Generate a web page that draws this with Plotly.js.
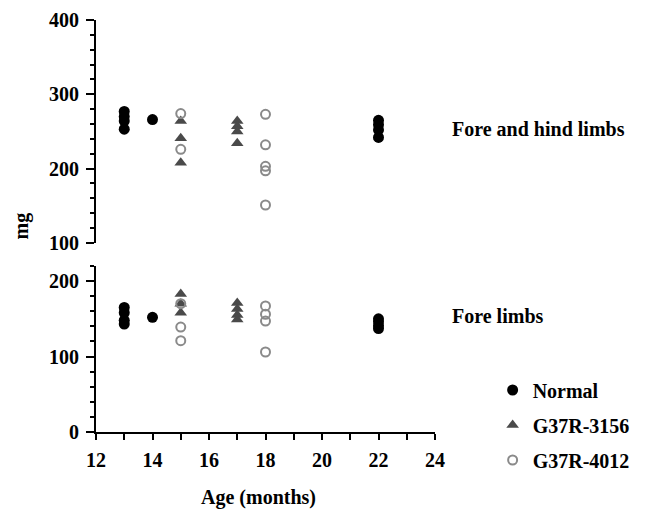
<!DOCTYPE html>
<html>
<head>
<meta charset="utf-8">
<script src="https://cdn.plot.ly/plotly-3.0.1.min.js"></script>
<style>html,body{margin:0;padding:0;background:#fff;}#chart{width:647px;height:519px;}</style>
</head>
<body>
<div id="chart"></div>
<script>
// Fore and hind limbs (top panel)
var topNormalAge = [13, 13, 13, 13, 14, 22, 22, 22, 22];
var topNormalMg  = [277, 270, 264, 253, 266, 265, 259, 252, 242];
var topG3156Age  = [15, 15, 15, 17, 17, 17, 17];
var topG3156Mg   = [264, 241, 208, 264, 257, 250, 234];
var topG4012Age  = [15, 15, 18, 18, 18, 18, 18];
var topG4012Mg   = [274, 226, 273, 232, 203, 197, 151];

// Fore limbs (bottom panel)
var botNormalAge = [13, 13, 13, 13, 14, 22, 22, 22, 22];
var botNormalMg  = [165, 158, 148, 143, 152, 150, 146, 141, 137];
var botG3156Age  = [15, 15, 15, 17, 17, 17, 17];
var botG3156Mg   = [183, 170, 158, 171, 163, 155, 149];
var botG4012Age  = [15, 15, 15, 18, 18, 18, 18];
var botG4012Mg   = [170, 139, 121, 167, 156, 147, 106];

var seriesNames = ['Normal', 'G37R-3156', 'G37R-4012'];
var xTickVals = [12, 13, 14, 15, 16, 17, 18, 19, 20, 21, 22, 23, 24];
var xTickText = ['12', '', '14', '', '16', '', '18', '', '20', '', '22', '', '24'];
var topTickVals = [100, 200, 300, 400];
var botTickVals = [0, 100, 200];

var serif = 'Liberation Serif, Times New Roman, serif';
var styleN = {symbol: 'circle', size: 11, color: '#000000'};
var styleA = {symbol: 'triangle-up', size: 11, color: '#4a4a4a'};
var styleB = {symbol: 'circle-open', size: 9, color: '#8a8a8a', line: {width: 2, color: '#8a8a8a'}};

var traces = [
  {x: botNormalAge, y: botNormalMg, xaxis: 'x', yaxis: 'y', mode: 'markers', name: seriesNames[0], legendgroup: 'a', marker: styleN},
  {x: botG3156Age, y: botG3156Mg, xaxis: 'x', yaxis: 'y', mode: 'markers', name: seriesNames[1], legendgroup: 'b', marker: styleA},
  {x: botG4012Age, y: botG4012Mg, xaxis: 'x', yaxis: 'y', mode: 'markers', name: seriesNames[2], legendgroup: 'c', marker: styleB},
  {x: topNormalAge, y: topNormalMg, xaxis: 'x', yaxis: 'y2', mode: 'markers', name: seriesNames[0], legendgroup: 'a', showlegend: false, marker: styleN},
  {x: topG3156Age, y: topG3156Mg, xaxis: 'x', yaxis: 'y2', mode: 'markers', name: seriesNames[1], legendgroup: 'b', showlegend: false, marker: styleA},
  {x: topG4012Age, y: topG4012Mg, xaxis: 'x', yaxis: 'y2', mode: 'markers', name: seriesNames[2], legendgroup: 'c', showlegend: false, marker: styleB}
];

var bigFont = {family: serif, size: 20, color: '#000', weight: 'bold'};

var layout = {
  width: 647, height: 519,
  margin: {l: 96, r: 210, t: 20, b: 87},
  paper_bgcolor: '#ffffff', plot_bgcolor: '#ffffff',
  font: {family: serif, color: '#000'},
  showlegend: true,
  legend: {x: 1.17, xanchor: 'left', y: 0.017, yanchor: 'middle', font: bigFont, tracegroupgap: 6, bgcolor: 'rgba(0,0,0,0)'},
  xaxis: {
    range: [12, 24], domain: [0, 1], anchor: 'y',
    showline: true, linecolor: '#000', linewidth: 2, showgrid: false, zeroline: false,
    tickmode: 'array', tickvals: xTickVals, ticktext: xTickText,
    ticks: 'outside', ticklen: 6, tickwidth: 2, tickcolor: '#000',
    ticklabelstandoff: 3,
    tickfont: bigFont
  },
  yaxis: {
    range: [0, 220], domain: [0, 0.403], anchor: 'x',
    showline: true, linecolor: '#000', linewidth: 2, showgrid: false, zeroline: false,
    tickmode: 'array', tickvals: botTickVals,
    ticks: 'outside', ticklen: 8, tickwidth: 2, tickcolor: '#000',
    ticklabelstandoff: 3,
    minor: {dtick: 20, tick0: 0, ticks: 'outside', ticklen: 4, tickwidth: 2, tickcolor: '#000', showgrid: false},
    tickfont: bigFont
  },
  yaxis2: {
    range: [100, 400], domain: [0.459, 1], anchor: 'x',
    showline: true, linecolor: '#000', linewidth: 2, showgrid: false, zeroline: false,
    tickmode: 'array', tickvals: topTickVals,
    ticks: 'outside', ticklen: 8, tickwidth: 2, tickcolor: '#000',
    ticklabelstandoff: 3,
    minor: {dtick: 20, tick0: 0, ticks: 'outside', ticklen: 4, tickwidth: 2, tickcolor: '#000', showgrid: false},
    tickfont: bigFont
  },
  annotations: [
    {text: 'mg', xref: 'paper', yref: 'paper', x: -0.22, y: 0.5, textangle: -90, showarrow: false, xanchor: 'center', yanchor: 'middle', font: bigFont},
    {text: 'Age (months)', xref: 'paper', yref: 'paper', x: 0.48, y: -0.16, showarrow: false, xanchor: 'center', yanchor: 'middle', font: bigFont},
    {text: 'Fore and hind limbs', xref: 'paper', yref: 'paper', x: 1.044, y: 0.735, xanchor: 'left', yanchor: 'middle', showarrow: false, font: bigFont},
    {text: 'Fore limbs', xref: 'paper', yref: 'paper', x: 1.044, y: 0.282, xanchor: 'left', yanchor: 'middle', showarrow: false, font: bigFont}
  ]
};

Plotly.newPlot('chart', traces, layout, {displayModeBar: false, staticPlot: true});
</script>
</body>
</html>
